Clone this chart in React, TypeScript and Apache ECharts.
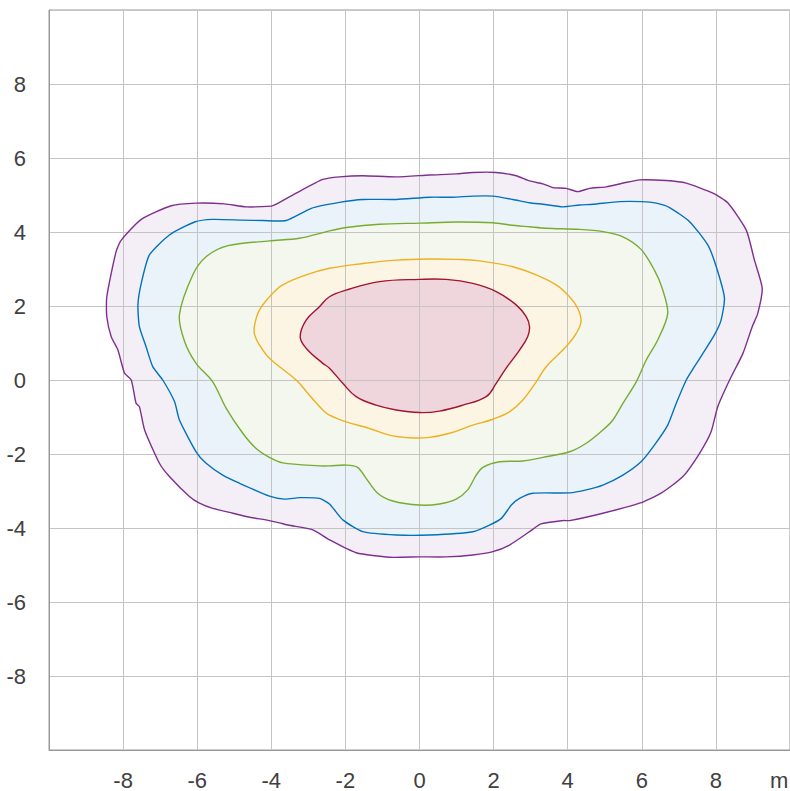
import React, { useEffect, useRef } from "react";
import * as echarts from "echarts";

// Contour polygons in data units (x, y in metres)
const contourPurple: number[][] = [
  [-8.44, 2.25], [-8.19, 3.47], [-8.05, 3.78], [-7.51, 4.34], [-6.7, 4.71], [-6.03, 4.78], [-5.26, 4.76],
  [-4.68, 4.68], [-4.0, 4.7], [-3.91, 4.73], [-3.33, 5.05], [-2.61, 5.42], [-2.16, 5.49], [-1.53, 5.52],
  [-0.63, 5.49], [0.27, 5.54], [0.99, 5.57], [1.44, 5.61], [2.07, 5.61], [2.61, 5.52], [2.97, 5.38],
  [3.33, 5.3], [3.6, 5.2], [3.96, 5.18], [4.27, 5.09], [4.59, 5.18], [5.04, 5.22], [5.53, 5.33],
  [5.94, 5.41], [6.66, 5.39], [7.2, 5.32], [7.92, 5.05], [8.32, 4.79], [8.82, 4.05], [9.04, 3.24],
  [9.25, 2.48], [9.13, 1.8], [8.98, 1.44], [8.73, 0.72], [8.37, 0.0], [8.05, -0.72], [7.87, -1.4],
  [7.56, -1.98], [7.11, -2.61], [6.52, -3.06], [5.94, -3.33], [4.95, -3.6], [4.05, -3.8], [3.87, -3.8],
  [3.28, -3.89], [2.97, -4.1], [2.43, -4.46], [1.98, -4.64], [1.44, -4.73], [0.72, -4.78], [0.0, -4.78],
  [-0.81, -4.79], [-1.71, -4.67], [-2.43, -4.32], [-2.88, -4.05], [-3.55, -3.92], [-3.78, -3.86],
  [-4.05, -3.8], [-4.68, -3.69], [-5.04, -3.6], [-5.58, -3.47], [-5.94, -3.33], [-6.21, -3.15],
  [-6.75, -2.61], [-7.02, -2.25], [-7.42, -1.35], [-7.56, -0.72], [-7.65, -0.63], [-7.78, 0.0],
  [-7.96, 0.18], [-8.14, 0.81], [-8.32, 1.17], [-8.44, 1.71],
];

const contourBlue: number[][] = [
  [-7.6, 2.03], [-7.51, 2.61], [-7.29, 3.38], [-6.75, 3.92], [-6.07, 4.27], [-5.58, 4.34], [-4.77, 4.32],
  [-4.23, 4.31], [-3.6, 4.31], [-2.92, 4.64], [-2.16, 4.8], [-1.53, 4.88], [-0.63, 4.88], [0.27, 4.94],
  [0.9, 4.94], [1.44, 4.97], [1.98, 4.97], [2.52, 4.88], [2.97, 4.79], [3.33, 4.75], [3.87, 4.68],
  [4.32, 4.73], [4.68, 4.75], [5.4, 4.82], [5.98, 4.82], [6.39, 4.78], [6.75, 4.66], [7.29, 4.28],
  [7.78, 3.65], [8.01, 3.06], [8.23, 2.22], [8.14, 1.62], [7.96, 1.22], [7.65, 0.72], [7.42, 0.36],
  [7.2, 0.0], [6.93, -0.63], [6.7, -1.22], [6.34, -1.76], [5.98, -2.21], [5.49, -2.57], [4.95, -2.84],
  [4.5, -2.97], [4.05, -3.05], [3.06, -3.06], [2.7, -3.2], [2.48, -3.38], [2.21, -3.74], [1.89, -3.92],
  [1.44, -4.1], [0.27, -4.19], [-0.63, -4.19], [-1.53, -4.1], [-2.07, -3.78], [-2.43, -3.35],
  [-2.7, -3.2], [-3.24, -3.18], [-3.64, -3.22], [-4.05, -3.14], [-4.86, -2.79], [-5.31, -2.57],
  [-5.76, -2.25], [-6.03, -1.94], [-6.48, -1.08], [-6.61, -0.59], [-6.93, 0.0], [-7.2, 0.36],
  [-7.38, 0.9], [-7.56, 1.44],
];

const contourGreen: number[][] = [
  [-6.48, 1.76], [-6.12, 2.84], [-5.76, 3.33], [-5.17, 3.63], [-4.05, 3.76], [-3.24, 3.83], [-2.43, 4.03],
  [-1.98, 4.12], [-1.08, 4.21], [0.0, 4.24], [0.99, 4.27], [1.98, 4.25], [2.43, 4.19], [2.97, 4.14],
  [3.42, 4.1], [4.32, 4.07], [4.95, 4.01], [5.49, 3.87], [5.98, 3.53], [6.34, 2.97], [6.55, 2.48],
  [6.7, 1.8], [6.43, 1.08], [6.12, 0.54], [5.85, -0.05], [5.49, -0.63], [5.22, -1.08], [4.95, -1.35],
  [4.5, -1.71], [4.05, -1.94], [3.33, -2.09], [2.79, -2.19], [2.16, -2.21], [1.71, -2.36], [1.53, -2.57],
  [1.3, -2.97], [0.99, -3.22], [0.54, -3.35], [0.0, -3.38], [-0.72, -3.27], [-1.13, -3.06],
  [-1.44, -2.66], [-1.67, -2.36], [-1.98, -2.3], [-2.43, -2.32], [-2.7, -2.32], [-3.69, -2.24],
  [-4.05, -2.09], [-4.41, -1.85], [-4.77, -1.44], [-5.22, -0.76], [-5.58, -0.05], [-6.03, 0.45],
  [-6.34, 1.04],
];

const contourYellow: number[][] = [
  [-4.45, 1.49], [-4.32, 1.89], [-4.0, 2.3], [-3.69, 2.57], [-3.06, 2.84], [-2.43, 3.02], [-1.53, 3.15],
  [-0.63, 3.24], [0.27, 3.27], [0.99, 3.26], [1.62, 3.22], [2.52, 3.06], [3.15, 2.84], [3.69, 2.57],
  [4.05, 2.25], [4.27, 1.94], [4.36, 1.59], [4.23, 1.26], [4.05, 1.01], [3.87, 0.81], [3.42, 0.36],
  [3.15, -0.05], [2.79, -0.54], [2.43, -0.86], [1.98, -1.06], [1.44, -1.22], [0.81, -1.44], [0.27, -1.55],
  [-0.27, -1.56], [-0.81, -1.49], [-1.35, -1.31], [-1.98, -1.13], [-2.43, -0.95], [-2.61, -0.81],
  [-2.97, -0.41], [-3.33, 0.0], [-4.0, 0.54], [-4.23, 0.81], [-4.45, 1.22],
];

const contourRed: number[][] = [
  [-3.22, 1.17], [-3.06, 1.62], [-2.7, 1.98], [-2.43, 2.25], [-1.98, 2.43], [-1.08, 2.66], [0.0, 2.72],
  [0.72, 2.72], [1.44, 2.61], [2.07, 2.39], [2.61, 2.03], [2.88, 1.71], [2.97, 1.44], [2.92, 1.17],
  [2.7, 0.81], [2.34, 0.32], [2.07, -0.09], [1.8, -0.45], [1.17, -0.68], [0.54, -0.84], [0.0, -0.88],
  [-0.63, -0.81], [-1.17, -0.68], [-1.71, -0.45], [-2.07, -0.09], [-2.43, 0.32], [-2.61, 0.45],
  [-3.06, 0.86],
];

const contours = [contourPurple, contourBlue, contourGreen, contourYellow, contourRed];
const lineColors = ["#7E2F8E", "#0072BD", "#77AC30", "#EDB120", "#A2142F"];
const fillColors = ["#f4eff6", "#ebf3fa", "#f3f7ee", "#fcf5e4", "#efd6dc"];
const smoothness = [0.2, 0.2, 0.3, 0.4, 0.4];

const axisTicks = [-8, -6, -4, -2, 0, 2, 4, 6, 8];
const axisUnit = "m";

const FONT = "'Liberation Sans', Arial, Helvetica, sans-serif";

export default function App() {
  const ref = useRef<HTMLDivElement>(null);

  useEffect(() => {
    if (!ref.current) return;
    const chart = echarts.init(ref.current, undefined, { renderer: "svg" });

    const labelFmt = (v: number) => (axisTicks.indexOf(v) >= 0 ? String(v) : "");

    const makeAxis = (isX: boolean) => ({
      type: "value",
      min: -10,
      max: 10,
      interval: 2,
      z: 2,
      axisLine: { show: true, onZero: false, lineStyle: { color: "#999999", width: 1 } },
      axisTick: { show: false },
      splitLine: { show: true, lineStyle: { color: "#c4c4c4", width: 1 } },
      axisLabel: {
        showMinLabel: false,
        showMaxLabel: false,
        formatter: labelFmt,
        fontSize: 22,
        fontFamily: FONT,
        color: "#404040",
        margin: isX ? 19 : 23,
      },
    });

    const data = contours.map((_, i) => [0, 0, i]);

    chart.setOption({
      animation: false,
      backgroundColor: "#ffffff",
      grid: {
        left: 49,
        top: 10,
        width: 741,
        height: 740,
        show: true,
        borderColor: "#999999",
        borderWidth: 1,
        containLabel: false,
      },
      xAxis: makeAxis(true),
      yAxis: makeAxis(false),
      graphic: [
        {
          type: "text",
          left: 770,
          top: 769,
          z: 10,
          style: { text: axisUnit, font: `22px ${FONT}`, fill: "#404040" },
        },
      ],
      series: [
        {
          type: "custom",
          coordinateSystem: "cartesian2d",
          z: 1,
          silent: true,
          clip: true,
          data,
          renderItem: (params: any, api: any) => {
            const pts = contours[params.dataIndex].map((p) => api.coord(p));
            return {
              type: "polygon",
              shape: { points: pts, smooth: smoothness[params.dataIndex] },
              style: { fill: fillColors[params.dataIndex], stroke: "none" },
            };
          },
        },
        {
          type: "custom",
          coordinateSystem: "cartesian2d",
          z: 3,
          silent: true,
          clip: true,
          data,
          renderItem: (params: any, api: any) => {
            const pts = contours[params.dataIndex].map((p) => api.coord(p));
            return {
              type: "polygon",
              shape: { points: pts, smooth: smoothness[params.dataIndex] },
              style: { fill: "none", stroke: lineColors[params.dataIndex], lineWidth: 1.4 },
            };
          },
        },
      ],
    });

    return () => chart.dispose();
  }, []);

  return (
    <div
      ref={ref}
      style={{ position: "absolute", left: 0, top: 0, width: 790, height: 791 }}
    />
  );
}
